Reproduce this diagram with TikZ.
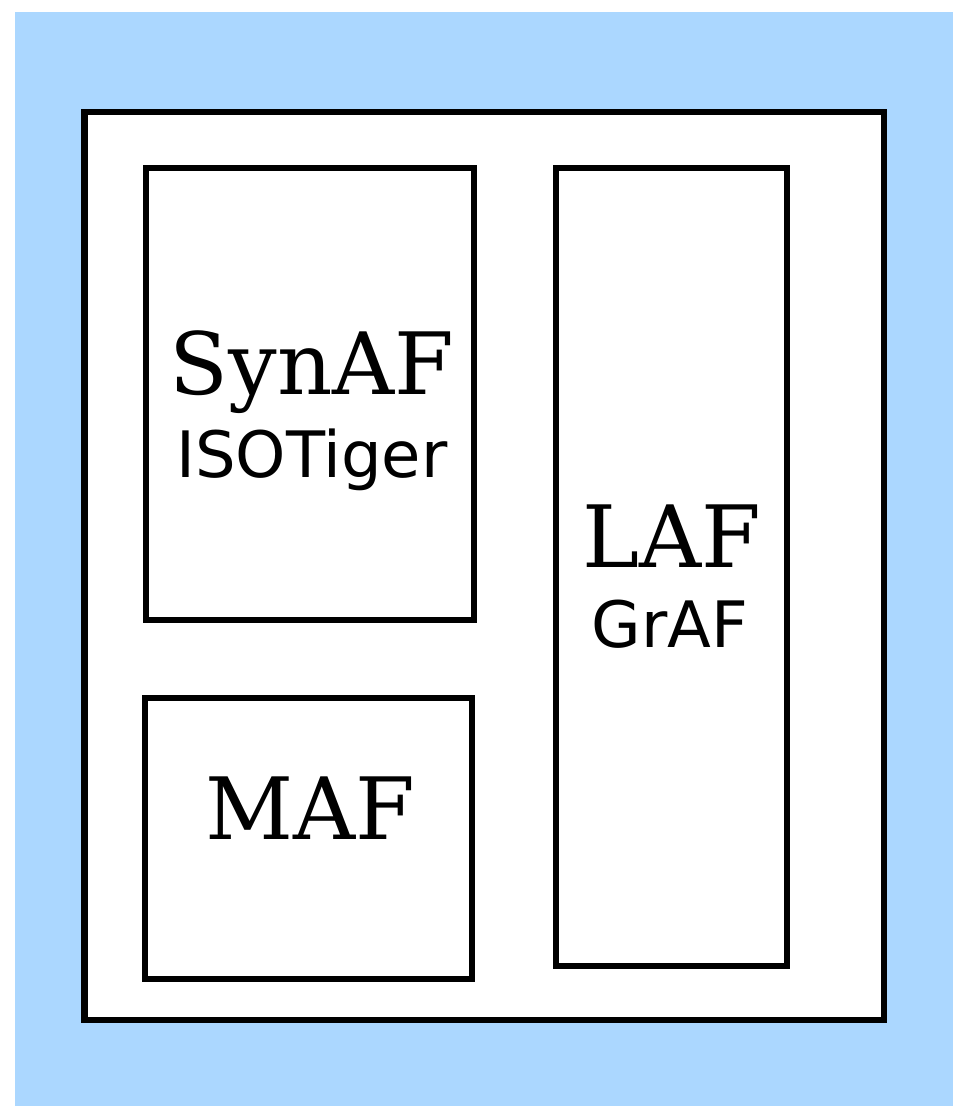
\documentclass[tikz,border=0pt]{standalone}
\usepackage{fontspec}
\setmainfont{DejaVu Serif}
\setsansfont{DejaVu Sans}
\definecolor{skyblue}{RGB}{171,215,255}

\tikzset{
  framebox/.style={draw=black, line width=6.5pt, fill=white},
  bigname/.style={anchor=base, inner sep=0pt, font=\fontsize{86}{86}\selectfont},
  smallname/.style={anchor=base, inner sep=0pt, font=\sffamily\fontsize{64}{64}\selectfont}
}

\begin{document}
\begin{tikzpicture}[x=1pt, y=-1pt]
    % Page and background
    \useasboundingbox (0,0) rectangle (953,1106);
    \fill[skyblue] (15,12) rectangle (953,1106);

    % Outer frame
    \draw[framebox] (84.5,112) rectangle (884,1020);

    % Inner boxes
    \draw[framebox] (146,168) rectangle (474,620);
    \draw[framebox] (145,698) rectangle (472,979);
    \draw[framebox] (556,168) rectangle (787,966);

    % Labels
    \node[bigname] (synaf) at (312,394) {SynAF};
    \node[smallname] (isotiger) at (312,477) {ISOTiger};
    \node[bigname] (maf) at (310,839) {MAF};
    \node[bigname] (laf) at (672,567) {LAF};
    \node[smallname] (graf) at (670,647) {GrAF};
\end{tikzpicture}
\end{document}
